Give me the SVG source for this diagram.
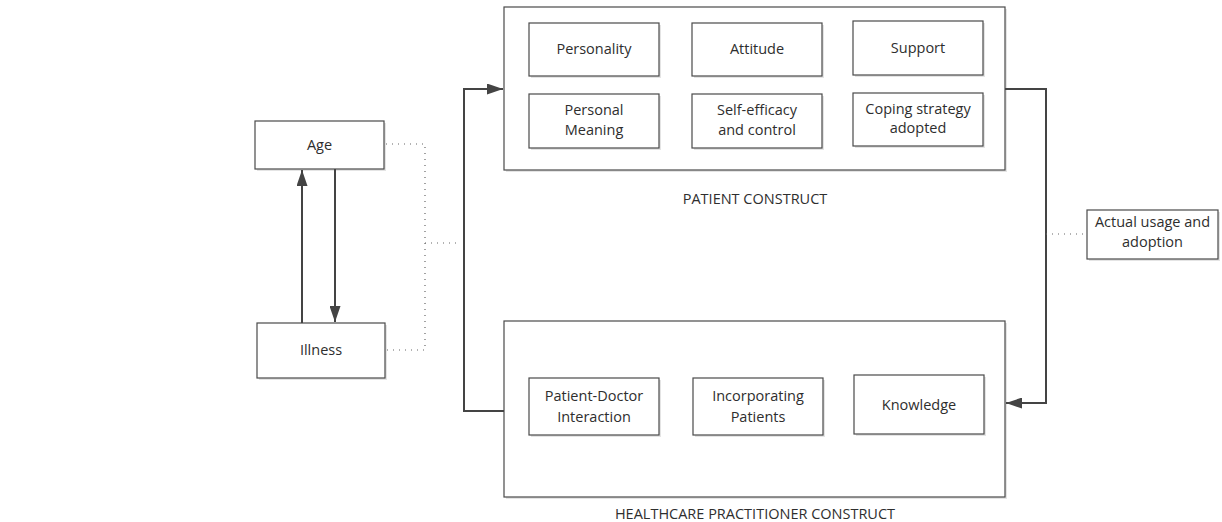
<svg xmlns="http://www.w3.org/2000/svg" width="1222" height="522" viewBox="0 0 1222 522">
<style>
.box{fill:#fff;stroke:#4a4a4a;stroke-width:1.2}
.shadow{fill:#e4e4e4;stroke:none}
.t{font-family:"Open Sans","Liberation Sans",sans-serif;font-size:14.5px;fill:#2e2e2e;text-anchor:middle}
.lbl{font-family:"Open Sans","Liberation Sans",sans-serif;font-size:14.5px;fill:#2e2e2e;text-anchor:middle}
.arr{fill:none;stroke:#444;stroke-width:2}
.dot{fill:none;stroke:#666;stroke-width:1.2;stroke-dasharray:1 5}
</style>
<defs>
<marker id="ah" viewBox="0 0 16 11" refX="16" refY="5.5" markerWidth="8" markerHeight="5.5" orient="auto" markerUnits="strokeWidth">
<path d="M0,0 L16,5.5 L0,11 z" fill="#444"/>
</marker>
</defs>
<rect width="1222" height="522" fill="#fff"/>

<g id="patient-construct">
<rect class="shadow" x="506" y="9" width="501" height="163"/>
<rect class="box" x="504" y="7" width="501" height="163"/>
<text class="lbl" x="755" y="204">PATIENT CONSTRUCT</text>
</g>
<g id="healthcare-construct">
<rect class="shadow" x="506" y="323" width="501" height="176"/>
<rect class="box" x="504" y="321" width="501" height="176"/>
<text class="lbl" x="755" y="519">HEALTHCARE PRACTITIONER CONSTRUCT</text>
</g>

<g id="age"><rect class="shadow" x="257" y="123" width="129" height="48"/><rect class="box" x="255" y="121" width="129" height="48"/><text class="t" x="319.5" y="150">Age</text></g>
<g id="illness"><rect class="shadow" x="259" y="325" width="128" height="55"/><rect class="box" x="257" y="323" width="128" height="55"/><text class="t" x="321" y="355">Illness</text></g>

<g id="personality"><rect class="shadow" x="531" y="25" width="130" height="53"/><rect class="box" x="529" y="23" width="130" height="53"/><text class="t" x="594" y="54">Personality</text></g>
<g id="attitude"><rect class="shadow" x="694" y="25" width="130" height="53"/><rect class="box" x="692" y="23" width="130" height="53"/><text class="t" x="757" y="54">Attitude</text></g>
<g id="support"><rect class="shadow" x="855" y="23" width="130" height="54"/><rect class="box" x="853" y="21" width="130" height="54"/><text class="t" x="918" y="53">Support</text></g>
<g id="personal-meaning"><rect class="shadow" x="531" y="96" width="130" height="54"/><rect class="box" x="529" y="94" width="130" height="54"/><text class="t" x="594" y="115">Personal</text><text class="t" x="594" y="135">Meaning</text></g>
<g id="self-efficacy"><rect class="shadow" x="694" y="96" width="130" height="54"/><rect class="box" x="692" y="94" width="130" height="54"/><text class="t" x="757" y="115">Self-efficacy</text><text class="t" x="757" y="135">and control</text></g>
<g id="coping"><rect class="shadow" x="855" y="95" width="130" height="53"/><rect class="box" x="853" y="93" width="130" height="53"/><text class="t" x="918" y="114">Coping strategy</text><text class="t" x="918" y="133">adopted</text></g>

<g id="patient-doctor"><rect class="shadow" x="531" y="380" width="130" height="57"/><rect class="box" x="529" y="378" width="130" height="57"/><text class="t" x="594" y="401">Patient-Doctor</text><text class="t" x="594" y="422">Interaction</text></g>
<g id="incorporating"><rect class="shadow" x="695" y="380" width="130" height="57"/><rect class="box" x="693" y="378" width="130" height="57"/><text class="t" x="758" y="401">Incorporating</text><text class="t" x="758" y="422">Patients</text></g>
<g id="knowledge"><rect class="shadow" x="856" y="377" width="130" height="59"/><rect class="box" x="854" y="375" width="130" height="59"/><text class="t" x="919" y="410">Knowledge</text></g>

<g id="actual-usage"><rect class="shadow" x="1089" y="212" width="131" height="49"/><rect class="box" x="1087" y="210" width="131" height="49"/><text class="t" x="1152.5" y="227">Actual usage and</text><text class="t" x="1152.5" y="247">adoption</text></g>

<g id="connectors">
<line class="arr" x1="302" y1="323" x2="302" y2="170" marker-end="url(#ah)"/>
<line class="arr" x1="335" y1="169" x2="335" y2="322" marker-end="url(#ah)"/>
<path class="arr" d="M504,411 H464 V89 H503" marker-end="url(#ah)"/>
<path class="arr" d="M1005,89 H1046 V403 H1006" marker-end="url(#ah)"/>
<path class="dot" d="M386,144 H425 V350 H387"/>
<path class="dot" d="M425,243 H458"/>
<path class="dot" d="M1046,234 H1087"/>
</g>
</svg>
